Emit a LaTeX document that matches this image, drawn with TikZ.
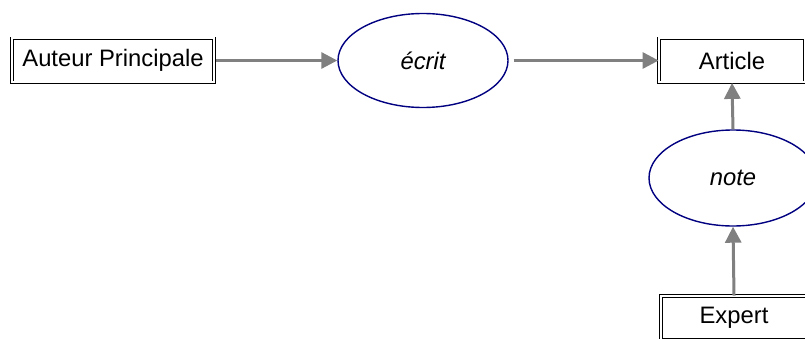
\documentclass[tikz,border=0pt]{standalone}
\usepackage{fontspec}
\setmainfont{Liberation Sans}
\usetikzlibrary{arrows.meta,shapes.geometric}
\definecolor{relblue}{RGB}{0,0,128}
\definecolor{flowgray}{RGB}{128,128,128}
\tikzset{
  entity/.style={draw=black, line width=0.8pt, double, double distance=2pt, inner sep=0pt,
    minimum width=146pt, minimum height=44pt, font=\fontsize{23.8}{28}\selectfont},
  relation/.style={ellipse, draw=relblue, line width=1.4pt, inner sep=0pt,
    minimum width=170pt, minimum height=94pt, font=\fontsize{23.8}{28}\selectfont\itshape},
  flow/.style={draw=flowgray, line width=3pt, -{Triangle[length=16pt,width=16pt]}}
}

\begin{document}
\begin{tikzpicture}[x=1pt,y=1pt]
				\useasboundingbox (0,0) rectangle (805,338);
				\clip (0,0) rectangle (805,338);
				
				% entites
				\node[entity, minimum width=202pt] (auteur) at (113,277.5) {Auteur Principale};
				\node[entity] (article) at (732,277.5) {Article};
				\node[entity] (expert) at (734,20) {Expert};
				
				% relations
				\node[relation] (ecrit) at (423,277.5) {écrit};
				\node[relation, minimum width=168pt, minimum height=96pt] (note) at (733,160) {note};
				
				\draw[flow, shorten <=2pt] (auteur.east) -- (ecrit.west);
				\draw[flow, shorten <=5pt] (ecrit.east) -- (article.west);
				\draw[flow] (note.north) -- (article.south);
				\draw[flow] (expert.north) -- (note.south);
			\end{tikzpicture}
\end{document}
